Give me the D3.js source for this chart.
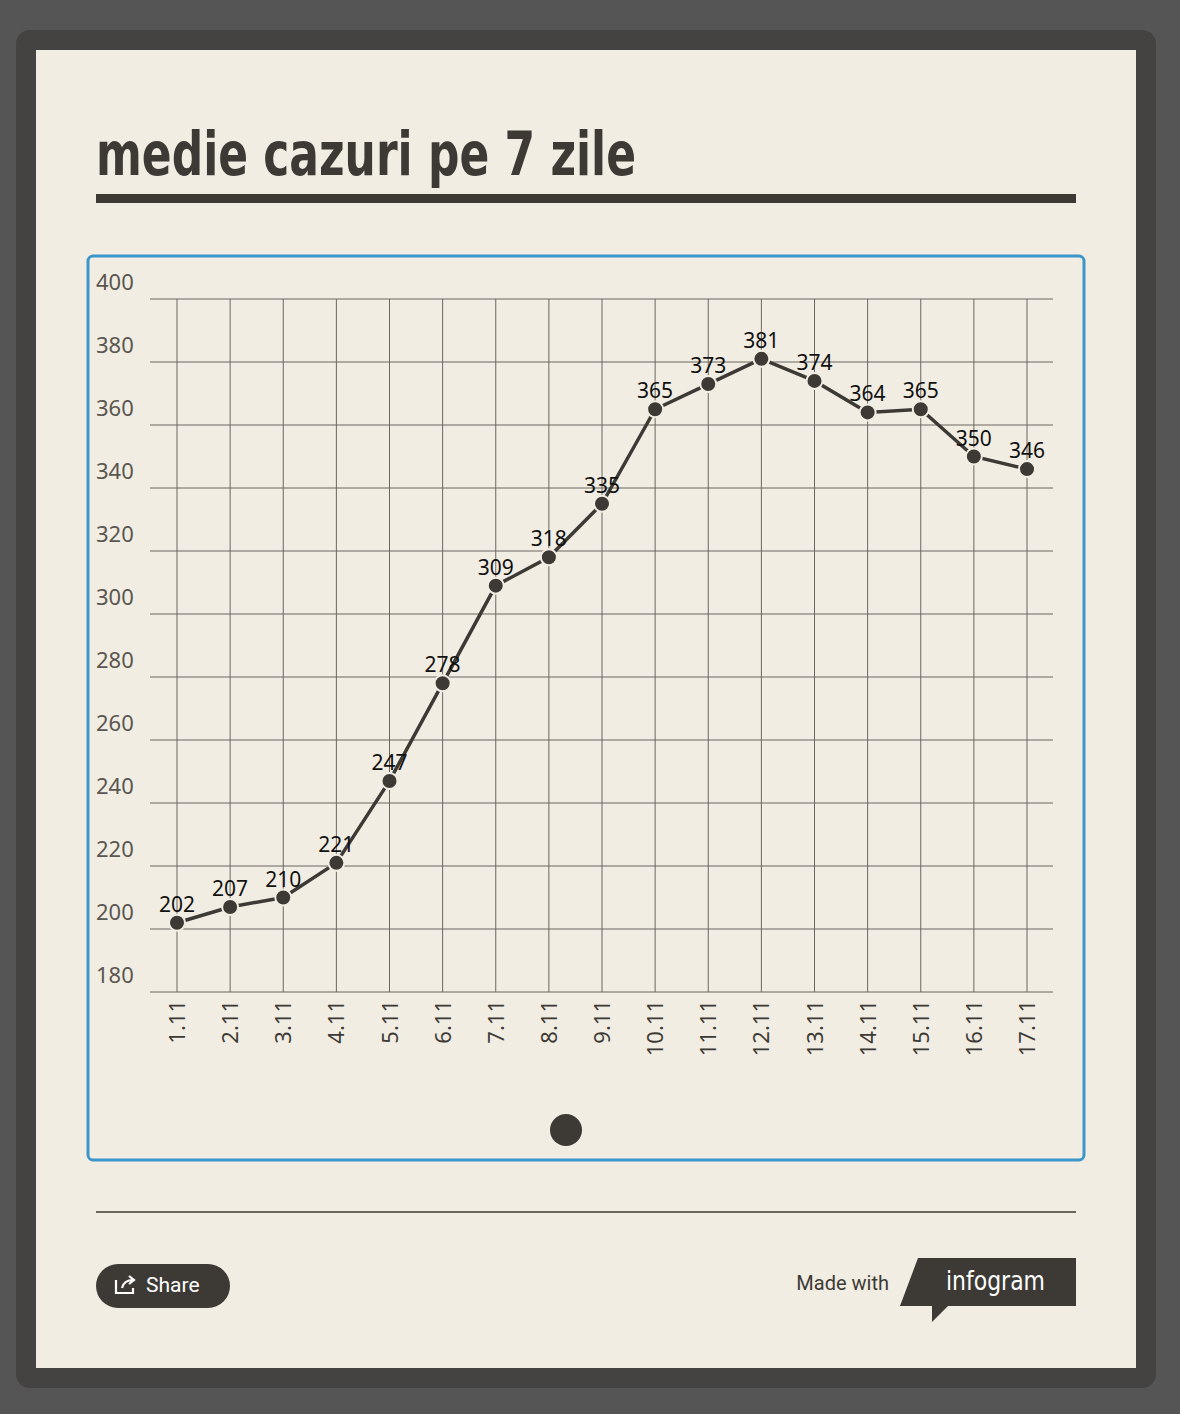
<!DOCTYPE html>
<html><head><meta charset="utf-8">
<script src="https://cdn.jsdelivr.net/npm/d3@7"></script>
<style>body{margin:0;background:#555555;}svg{display:block}</style>
</head><body>
<svg id="c" width="1180" height="1414"></svg>
<script>
const categories=["1.11","2.11","3.11","4.11","5.11","6.11","7.11","8.11","9.11","10.11","11.11","12.11","13.11","14.11","15.11","16.11","17.11"];
const values=[202,207,210,221,247,278,309,318,335,365,373,381,374,364,365,350,346];
const yTicks=[180,200,220,240,260,280,300,320,340,360,380,400];
const title="medie cazuri pe 7 zile";

const svg=d3.select("#c");
const ink="#3d3a35";
svg.append("rect").attr("x",16).attr("y",30).attr("width",1140).attr("height",1358).attr("rx",14).attr("fill","#444341");
svg.append("rect").attr("x",36).attr("y",50).attr("width",1100).attr("height",1318).attr("fill","#f1ede3");
svg.append("text").attr("x",96).attr("y",175).text(title).attr("fill",ink)
 .attr("font-family","'DejaVu Sans Condensed','DejaVu Sans',sans-serif").attr("font-weight","bold").attr("font-size",60)
 .attr("textLength",540).attr("lengthAdjust","spacingAndGlyphs");
svg.append("rect").attr("x",96).attr("y",194).attr("width",980).attr("height",9).attr("fill",ink);
svg.append("rect").attr("x",88).attr("y",256).attr("width",996).attr("height",904).attr("rx",5).attr("fill","none").attr("stroke","#3d96c9").attr("stroke-width",3);

const y=d3.scaleLinear().domain([180,400]).range([992,299]);
const x=d3.scalePoint().domain(categories).range([177,1027]);
const g=svg.append("g");
g.selectAll(".h").data(yTicks).join("line").attr("x1",150).attr("x2",1053).attr("y1",d=>y(d)).attr("y2",d=>y(d)).attr("stroke","#6b675f").attr("stroke-width",1);
g.selectAll(".v").data(categories).join("line").attr("x1",d=>x(d)).attr("x2",d=>x(d)).attr("y1",299).attr("y2",992).attr("stroke","#6b675f").attr("stroke-width",1);
g.selectAll(".yl").data(yTicks).join("text").attr("x",96).attr("y",d=>y(d)-9).text(d=>d)
 .attr("fill","#5a5650").attr("font-family","'Noto Sans',sans-serif").attr("font-size",22);
g.selectAll(".xl").data(categories).join("text").attr("transform",d=>`translate(${x(d)+8},1000) rotate(-90)`).attr("text-anchor","end").text(d=>d)
 .attr("fill",ink).attr("font-family","'Noto Sans',sans-serif").attr("font-size",22);
const pts=categories.map((c,i)=>[x(c),y(values[i])]);
g.append("path").attr("d",d3.line()(pts)).attr("fill","none").attr("stroke",ink).attr("stroke-width",3.5);
g.selectAll(".pt").data(pts).join("circle").attr("cx",d=>d[0]).attr("cy",d=>d[1]).attr("r",8).attr("fill",ink).attr("stroke","#f1ede3").attr("stroke-width",2);
g.selectAll(".vl").data(values).join("text").attr("x",(d,i)=>pts[i][0]).attr("y",(d,i)=>pts[i][1]-11).attr("text-anchor","middle").text(d=>d)
 .attr("fill","#111").attr("font-family","'Noto Sans',sans-serif").attr("font-size",21);

svg.append("circle").attr("cx",566).attr("cy",1130).attr("r",16).attr("fill",ink);
svg.append("line").attr("x1",96).attr("x2",1076).attr("y1",1212).attr("y2",1212).attr("stroke",ink).attr("stroke-width",1.5);
svg.append("rect").attr("x",96).attr("y",1264).attr("width",134).attr("height",44).attr("rx",22).attr("fill",ink);
svg.append("path").attr("d","M116,1280 v13 h17 v-5 M122,1288 q2,-8 11,-8 M129,1276 l5,4 l-5,4").attr("fill","none").attr("stroke","#fff").attr("stroke-width",2.2);
svg.append("text").attr("x",146).attr("y",1292).text("Share").attr("fill","#fff").attr("font-family","Roboto,sans-serif").attr("font-size",21);
svg.append("text").attr("x",889).attr("y",1290).attr("text-anchor","end").text("Made with").attr("fill",ink).attr("font-family","Roboto,sans-serif").attr("font-size",20);
svg.append("path").attr("d","M918,1258 H1076 V1306 H948 L932,1322 V1306 H900 Z").attr("fill",ink);
svg.append("text").attr("x",946).attr("y",1290).text("infogram").attr("fill","#fff").attr("font-family","'DejaVu Sans Condensed',sans-serif").attr("font-size",27)
 .attr("textLength",99).attr("lengthAdjust","spacingAndGlyphs");
</script></body></html>
